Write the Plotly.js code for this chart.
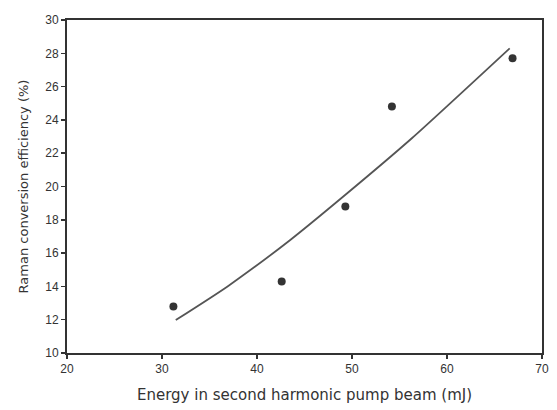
<!DOCTYPE html>
<html>
<head>
<meta charset="utf-8">
<script src="https://cdn.plot.ly/plotly-3.0.1.min.js"></script>
<style>html,body{margin:0;padding:0;background:#fff;}#chart{width:557px;height:410px;}</style>
</head>
<body>
<div id="chart"></div>
<script>
// Measured points
var energy = [31.2, 42.6, 49.3, 54.2, 66.9];
var efficiency = [12.8, 14.3, 18.8, 24.8, 27.7];
// Fit curve
var fitEnergy = [31.45, 36.9, 43.5, 49.4, 56.3, 66.6];
var fitEff = [11.98, 14.0, 16.79, 19.55, 22.9, 28.3];

var xTicks = [20, 30, 40, 50, 60, 70];
var yTicks = [10, 12, 14, 16, 18, 20, 22, 24, 26, 28, 30];

var ink = '#333333';
var traces = [
  {x: fitEnergy, y: fitEff, mode: 'lines', type: 'scatter',
   line: {color: '#555555', width: 1.8, shape: 'spline', smoothing: 0.6}, hoverinfo: 'skip'},
  {x: energy, y: efficiency, mode: 'markers', type: 'scatter',
   marker: {color: ink, size: 8, symbol: 'circle'}}
];
var axisCommon = {
  showgrid: false, zeroline: false, showline: true, linecolor: ink, linewidth: 2,
  mirror: true, ticks: 'outside', ticklen: 4, tickwidth: 1.5, tickcolor: ink,
  tickfont: {family: 'Arial, Liberation Sans, sans-serif', size: 12, color: ink}
};
var layout = {
  width: 557, height: 410,
  margin: {l: 67, r: 15, t: 20, b: 57},
  paper_bgcolor: '#fff', plot_bgcolor: '#fff',
  showlegend: false,
  xaxis: Object.assign({}, axisCommon, {
    range: [20, 70], tickvals: xTicks, ticktext: xTicks.map(String),
    title: {text: 'Energy in second harmonic pump beam (mJ)', standoff: 14,
            font: {family: 'DejaVu Sans, sans-serif', size: 15, color: ink}}
  }),
  yaxis: Object.assign({}, axisCommon, {
    range: [10, 30], tickvals: yTicks, ticktext: yTicks.map(String),
    title: {text: 'Raman conversion efficiency (%)', standoff: 14,
            font: {family: 'DejaVu Sans, sans-serif', size: 13, color: ink}}
  })
};
Plotly.newPlot('chart', traces, layout, {displayModeBar: false, staticPlot: true});
</script>
</body>
</html>
